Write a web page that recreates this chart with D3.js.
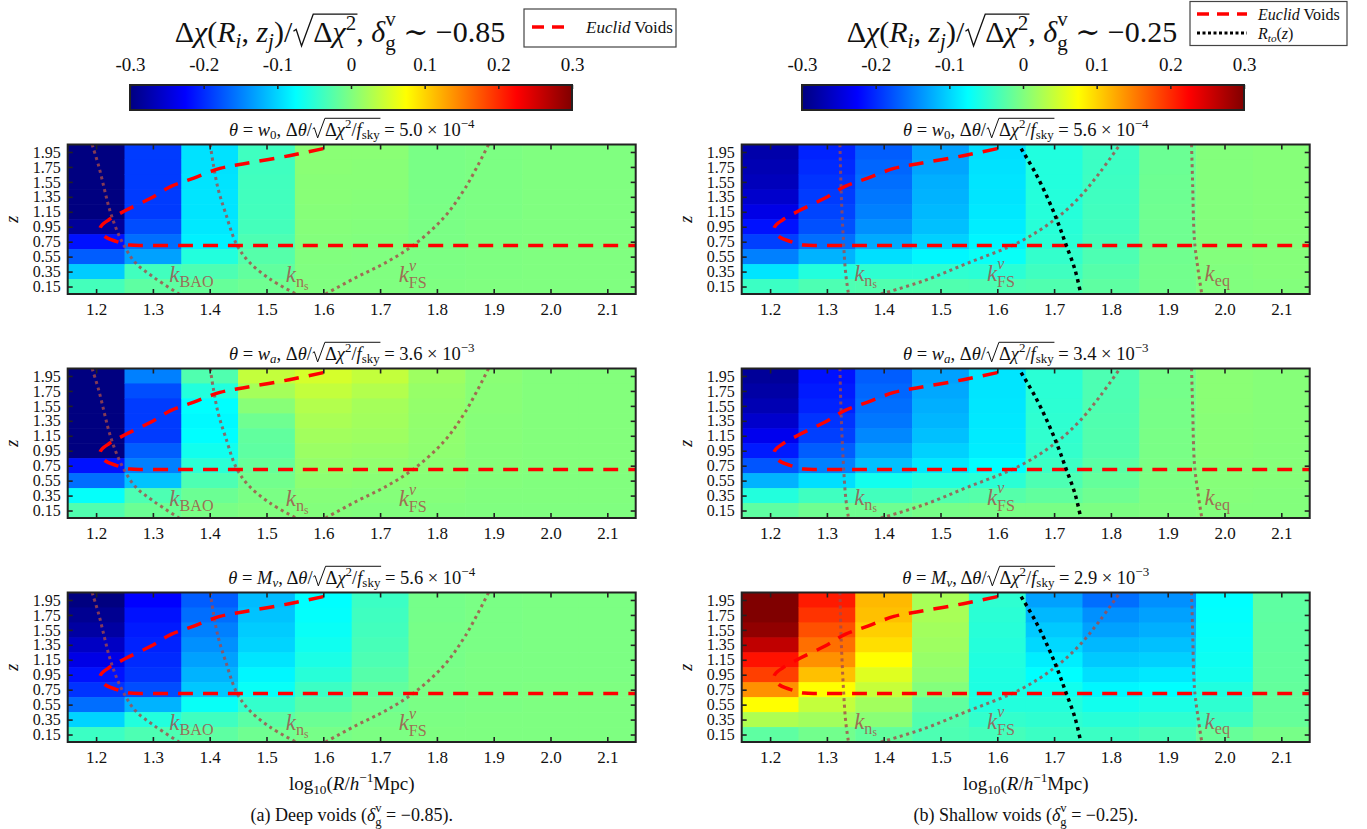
<!DOCTYPE html>
<meta charset="utf-8">
<script src="https://cdn.jsdelivr.net/npm/d3@7"></script>
<style>
body { margin: 0; background: #fff; }
svg { display: block; font-family: "Liberation Serif", "Tinos", "Times New Roman", "DejaVu Serif", serif; }
svg text { font-family: "Liberation Serif", "Tinos", "Times New Roman", "DejaVu Serif", serif !important; fill: #111; white-space: pre; }
</style>
<body>
<script>

// grid of the maps
var rVals = [1.2, 1.3, 1.4, 1.5, 1.6, 1.7, 1.8, 1.9, 2.0, 2.1];
var zRows = [1.95, 1.75, 1.55, 1.35, 1.15, 0.95, 0.75, 0.55, 0.35, 0.15];
var cbTicks = [-0.3, -0.2, -0.1, 0, 0.1, 0.2, 0.3];
var cbLabels = ["-0.3", "-0.2", "-0.1", "0", "0.1", "0.2", "0.3"];

// each inner array is one R column, values from z=1.95 down to z=0.15
var deepW0 = [
  [-0.3, -0.3, -0.3, -0.3, -0.3, -0.285, -0.215, -0.17, -0.105, -0.035],
  [-0.19, -0.19, -0.19, -0.19, -0.19, -0.18, -0.16, -0.13, -0.037, -0.02],
  [-0.092, -0.092, -0.091, -0.09, -0.09, -0.088, -0.083, -0.055, -0.03, -0.015],
  [-0.038, -0.038, -0.037, -0.037, -0.036, -0.035, -0.03, -0.025, -0.018, -0.01],
  [0.006, 0.006, 0.005, 0.005, 0.004, 0.003, 0.002, 0.001, 0, 0],
  [0.006, 0.005, 0.005, 0.004, 0.003, 0.002, 0.001, 0, 0, 0],
  [-0.004, -0.004, -0.004, -0.004, -0.003, -0.003, -0.003, -0.002, -0.002, -0.001],
  [-0.002, -0.002, -0.002, -0.002, -0.002, -0.001, -0.001, -0.001, -0.001, 0],
  [0, 0, 0, 0, 0, 0, 0, 0, 0, 0],
  [0, 0, 0, 0, 0, 0, 0, 0, 0, 0]
];
var deepWa = [
  [-0.3, -0.3, -0.3, -0.3, -0.3, -0.3, -0.215, -0.16, -0.072, -0.028],
  [-0.15, -0.18, -0.19, -0.19, -0.19, -0.17, -0.15, -0.11, -0.03, -0.012],
  [-0.028, -0.055, -0.075, -0.078, -0.075, -0.065, -0.05, -0.03, -0.012, -0.004],
  [0.04, 0.022, 0.005, -0.01, -0.018, -0.02, -0.015, -0.008, -0.003, 0],
  [0.05, 0.04, 0.03, 0.025, 0.02, 0.016, 0.012, 0.008, 0.004, 0.002],
  [0.04, 0.03, 0.022, 0.02, 0.018, 0.014, 0.01, 0.006, 0.003, 0.001],
  [0.018, 0.014, 0.012, 0.011, 0.01, 0.009, 0.007, 0.005, 0.003, 0.001],
  [0.006, 0.005, 0.005, 0.004, 0.004, 0.003, 0.003, 0.002, 0.001, 0],
  [0.002, 0.002, 0.002, 0.002, 0.002, 0.002, 0.002, 0.001, 0.001, 0],
  [0.002, 0.002, 0.002, 0.002, 0.002, 0.002, 0.002, 0.001, 0.001, 0]
];
var deepMnu = [
  [-0.3, -0.29, -0.28, -0.26, -0.24, -0.215, -0.195, -0.16, -0.1, -0.04],
  [-0.225, -0.215, -0.21, -0.205, -0.2, -0.195, -0.18, -0.12, -0.055, -0.03],
  [-0.17, -0.16, -0.15, -0.14, -0.13, -0.12, -0.108, -0.07, -0.038, -0.02],
  [-0.115, -0.11, -0.105, -0.1, -0.09, -0.08, -0.07, -0.045, -0.022, -0.01],
  [-0.075, -0.073, -0.07, -0.066, -0.06, -0.052, -0.04, -0.025, -0.012, -0.005],
  [-0.04, -0.038, -0.036, -0.033, -0.03, -0.025, -0.018, -0.01, -0.005, -0.002],
  [-0.006, -0.006, -0.005, -0.005, -0.005, -0.004, -0.004, -0.003, -0.002, -0.001],
  [-0.003, -0.003, -0.003, -0.003, -0.002, -0.002, -0.002, -0.002, -0.001, -0.001],
  [-0.002, -0.002, -0.002, -0.002, -0.002, -0.002, -0.001, -0.001, -0.001, -0.001],
  [-0.002, -0.002, -0.002, -0.002, -0.002, -0.002, -0.001, -0.001, -0.001, -0.001]
];
var shallowW0 = [
  [-0.275, -0.27, -0.265, -0.255, -0.24, -0.215, -0.188, -0.15, -0.09, -0.04],
  [-0.205, -0.2, -0.195, -0.19, -0.185, -0.178, -0.16, -0.12, -0.055, -0.03],
  [-0.17, -0.165, -0.16, -0.155, -0.15, -0.14, -0.125, -0.094, -0.048, -0.028],
  [-0.13, -0.128, -0.122, -0.12, -0.116, -0.112, -0.102, -0.08, -0.048, -0.028],
  [-0.094, -0.092, -0.09, -0.09, -0.088, -0.085, -0.08, -0.07, -0.05, -0.03],
  [-0.056, -0.055, -0.055, -0.054, -0.053, -0.052, -0.05, -0.045, -0.038, -0.028],
  [-0.04, -0.04, -0.039, -0.038, -0.037, -0.036, -0.034, -0.03, -0.025, -0.02],
  [-0.012, -0.012, -0.011, -0.011, -0.01, -0.01, -0.01, -0.009, -0.008, -0.008],
  [0.002, 0.002, 0.002, 0.002, 0.002, 0.002, 0.002, 0.002, 0.001, 0.001],
  [0.004, 0.004, 0.004, 0.004, 0.004, 0.004, 0.003, 0.003, 0.003, 0.002]
];
var shallowWa = [
  [-0.285, -0.278, -0.27, -0.255, -0.235, -0.21, -0.175, -0.12, -0.055, -0.02],
  [-0.215, -0.21, -0.205, -0.195, -0.188, -0.17, -0.15, -0.094, -0.038, -0.01],
  [-0.17, -0.165, -0.16, -0.155, -0.145, -0.13, -0.112, -0.065, -0.036, -0.01],
  [-0.13, -0.126, -0.122, -0.118, -0.112, -0.102, -0.088, -0.055, -0.028, -0.005],
  [-0.09, -0.09, -0.089, -0.088, -0.087, -0.085, -0.075, -0.05, -0.025, -0.004],
  [-0.05, -0.05, -0.049, -0.048, -0.047, -0.045, -0.04, -0.03, -0.018, -0.004],
  [-0.03, -0.03, -0.029, -0.028, -0.027, -0.026, -0.022, -0.016, -0.01, -0.002],
  [-0.006, -0.006, -0.005, -0.005, -0.004, -0.004, -0.003, -0.002, -0.001, 0],
  [0.006, 0.006, 0.006, 0.005, 0.005, 0.005, 0.004, 0.004, 0.003, 0.002],
  [0.004, 0.004, 0.004, 0.004, 0.004, 0.003, 0.003, 0.003, 0.002, 0.002]
];
var shallowMnu = [
  [0.3, 0.3, 0.29, 0.262, 0.215, 0.188, 0.14, 0.075, 0.028, -0.02],
  [0.21, 0.195, 0.178, 0.16, 0.14, 0.112, 0.075, 0.04, 0.02, -0.008],
  [0.116, 0.112, 0.103, 0.094, 0.075, 0.056, 0.042, 0.02, 0.006, -0.018],
  [0.024, 0.024, 0.02, 0.018, 0.014, 0.01, 0.002, -0.018, -0.028, -0.03],
  [-0.048, -0.05, -0.052, -0.054, -0.056, -0.058, -0.058, -0.055, -0.045, -0.035],
  [-0.13, -0.117, -0.107, -0.098, -0.085, -0.075, -0.065, -0.055, -0.048, -0.04],
  [-0.16, -0.14, -0.13, -0.117, -0.107, -0.094, -0.08, -0.065, -0.052, -0.04],
  [-0.14, -0.13, -0.122, -0.112, -0.102, -0.088, -0.075, -0.06, -0.048, -0.034],
  [-0.075, -0.074, -0.072, -0.07, -0.068, -0.065, -0.056, -0.048, -0.038, -0.015],
  [-0.02, -0.02, -0.019, -0.019, -0.018, -0.018, -0.017, -0.016, -0.015, -0.005]
];

// sigma of each parameter, printed in the titles
var deepSigma = ["5.0", "3.6", "5.6"];
var deepExp = ["\u22124", "\u22123", "\u22124"];
var shallowSigma = ["5.6", "3.4", "2.9"];
var shallowExp = ["\u22124", "\u22123", "\u22123"];

// curves, [log10 R, z]
var euclidVoids = [[1.60, 1.995], [1.54, 1.90], [1.458, 1.79], [1.418, 1.73], [1.372, 1.60], [1.332, 1.49],
  [1.296, 1.33], [1.25, 1.16], [1.222, 1.04], [1.21, 0.97], [1.207, 0.92], [1.215, 0.82], [1.235, 0.755],
  [1.26, 0.705], [1.30, 0.70], [2.15, 0.70]];
var kBaoDeep = [[1.193, 2.05], [1.205, 1.75], [1.215, 1.44], [1.223, 1.2], [1.234, 0.95], [1.249, 0.70],
  [1.269, 0.47], [1.302, 0.27], [1.346, 0.05]];
var kNsDeep = [[1.401, 2.05], [1.406, 1.8], [1.415, 1.45], [1.428, 1.13], [1.447, 0.72], [1.468, 0.49],
  [1.506, 0.25], [1.552, 0.05]];
var kFsDeep = [[1.604, 0.05], [1.66, 0.28], [1.71, 0.47], [1.76, 0.71], [1.812, 1.07], [1.85, 1.47], [1.891, 2.05]];
var kNsShallow = [[1.323, 2.05], [1.325, 1.45], [1.329, 0.78], [1.333, 0.33], [1.338, 0.05]];
var kFsShallow = [[1.395, 0.05], [1.468, 0.22], [1.547, 0.46], [1.64, 0.75], [1.70, 1.04], [1.743, 1.33],
  [1.78, 1.67], [1.816, 2.05]];
var kEqShallow = [[1.942, 2.05], [1.944, 1.5], [1.947, 0.78], [1.953, 0.4], [1.96, 0.05]];
var rTo = [[1.642, 1.995], [1.667, 1.67], [1.69, 1.31], [1.707, 1.0], [1.72, 0.73], [1.737, 0.37], [1.747, 0.05]];

var deepLabels = [
  {r: 1.329, z: 0.21, parts: [{t: "k", it: 1}, {t: "BAO", sh: 0.22, sc: 0.7}]},
  {r: 1.534, z: 0.21, parts: [{t: "k", it: 1}, {t: "n", sh: 0.22, sc: 0.7}, {t: "s", sh: 0.34, sc: 0.5}]},
  {r: 1.733, z: 0.21, parts: [{t: "k", it: 1}, {t: "\u03bd", it: 1, sh: -0.5, sc: 0.7}, {t: "FS", sh: 0.28, sc: 0.7, dx: -0.32}]}
];
var shallowLabels = [
  {r: 1.348, z: 0.23, parts: [{t: "k", it: 1}, {t: "n", sh: 0.22, sc: 0.7}, {t: "s", sh: 0.34, sc: 0.5}]},
  {r: 1.582, z: 0.23, parts: [{t: "k", it: 1}, {t: "\u03bd", it: 1, sh: -0.5, sc: 0.7}, {t: "FS", sh: 0.28, sc: 0.7, dx: -0.32}]},
  {r: 1.965, z: 0.23, parts: [{t: "k", it: 1}, {t: "eq", sh: 0.22, sc: 0.7}]}
];

var W = 568, H = 149.5;
var colX = [67.7, 741.7];
var rowY = [144.5, 368.5, 592.5];
var cbX = [130, 802], cbW = 442;
var brown = "rgb(165,72,72)";
var serif = '"Liberation Serif", "Tinos", "Times New Roman", "DejaVu Serif", serif';

var svg = d3.select("body").append("svg")
    .attr("width", 1367)
    .attr("height", 829)
    .style("font-family", serif);

var x = d3.scaleLinear().domain([1.15, 2.15]).range([0, W]);
var y = d3.scaleLinear().domain([0.05, 2.05]).range([H, 0]);

// jet colour map
var jetDomain = [-0.3, -0.225, -0.075, 0.075, 0.225, 0.3];
var jetColors = ["#000080", "#0000ff", "#00ffff", "#ffff00", "#ff0000", "#800000"];
var color = d3.scaleLinear().domain(jetDomain).range(jetColors).clamp(true);

// lays out a line of tspans with sub/superscripts and an optional square root
function mathText(g, parts, px, py, size, anchor) {
  var t = g.append("text")
      .attr("x", px)
      .attr("y", py)
      .attr("text-anchor", anchor || "start")
      .style("font-family", serif)
      .style("font-size", size + "px");
  var cur = 0, idx = 0, root = null;
  parts.forEach(function(p) {
    var sh = (p.sh || 0) * size;
    var s = t.append("tspan").text(p.t)
        .attr("dy", sh - cur)
        .style("font-size", (p.sc || 1) * size + "px");
    if (p.it) s.style("font-style", "italic");
    if (p.dx) s.attr("dx", p.dx * size);
    cur = sh;
    if (p.root) root = {a: idx, b: idx + p.t.length - 1};
    if (p.rootEnd) root.c = idx + p.t.length - 1;
    idx += p.t.length;
  });
  if (root) {
    var n = t.node();
    var a = n.getExtentOfChar(root.a), b = n.getExtentOfChar(root.b), c = n.getExtentOfChar(root.c);
    var x0 = a.x + 0.04 * size, x1 = b.x + b.width, x2 = c.x + c.width + 0.04 * size;
    var top = py - 0.93 * size;
    g.append("path")
        .attr("d", "M" + x0 + "," + (py - 0.36 * size) + "L" + (x0 + 0.09 * size) + "," + (py - 0.42 * size) +
          "L" + (x0 + 0.27 * size) + "," + (py + 0.13 * size) + "L" + x1 + "," + top + "H" + x2)
        .attr("fill", "none")
        .attr("stroke", "#111")
        .attr("stroke-width", Math.max(1, size * 0.045));
  }
  return t;
}

var sub = function(s, it) { return {t: s, sh: 0.2, sc: 0.7, it: it}; };
var sup = function(s, it) { return {t: s, sh: -0.4, sc: 0.7, it: it}; };
var paramParts = [
  [{t: "w", it: 1}, sub("0")],
  [{t: "w", it: 1}, sub("a", 1)],
  [{t: "M", it: 1}, sub("\u03bd", 1)]
];

function titleParts(k, val, ex) {
  return [{t: "\u03b8", it: 1}, {t: " = "}].concat(paramParts[k], [
    {t: ", \u0394"}, {t: "\u03b8", it: 1}, {t: "/"}, {t: "\u2002\u2009", root: 1},
    {t: "\u0394"}, {t: "\u03c7", it: 1}, sup("2"), {t: "/"}, {t: "f", it: 1},
    {t: "sky", sh: 0.2, sc: 0.7, rootEnd: 1}, {t: " = " + val + " \u00d7 10"}, sup(ex)]);
}

function mainParts(dv) {
  return [{t: "\u0394"}, {t: "\u03c7", it: 1}, {t: "("}, {t: "R", it: 1}, sub("i", 1), {t: ", "},
    {t: "z", it: 1}, sub("j", 1), {t: ")/"}, {t: "\u2002\u2009", root: 1}, {t: "\u0394"},
    {t: "\u03c7", it: 1}, {t: "2", sh: -0.4, sc: 0.7, rootEnd: 1}, {t: ", "}, {t: "\u03b4", it: 1},
    {t: "v", sh: -0.53, sc: 0.7}, {t: "g", sh: 0.25, sc: 0.7, dx: -0.35}, {t: " \u223c \u2212" + dv}];
}

var line = d3.line()
    .x(function(d) { return x(d[0]); })
    .y(function(d) { return y(d[1]); })
    .curve(d3.curveCatmullRom.alpha(0.5));

var panels = [
  {col: 0, row: 0, data: deepW0, k: 0, val: deepSigma[0], ex: deepExp[0]},
  {col: 0, row: 1, data: deepWa, k: 1, val: deepSigma[1], ex: deepExp[1]},
  {col: 0, row: 2, data: deepMnu, k: 2, val: deepSigma[2], ex: deepExp[2]},
  {col: 1, row: 0, data: shallowW0, k: 0, val: shallowSigma[0], ex: shallowExp[0]},
  {col: 1, row: 1, data: shallowWa, k: 1, val: shallowSigma[1], ex: shallowExp[1]},
  {col: 1, row: 2, data: shallowMnu, k: 2, val: shallowSigma[2], ex: shallowExp[2]}
];

svg.append("defs").append("clipPath").attr("id", "clip")
  .append("rect").attr("width", W).attr("height", H);

panels.forEach(function(p) {
  var g = svg.append("g")
      .attr("transform", "translate(" + colX[p.col] + "," + rowY[p.row] + ")");

  var inner = g.append("g").attr("clip-path", "url(#clip)");

  var cells = [];
  p.data.forEach(function(colVals, i) {
    colVals.forEach(function(v, j) {
      cells.push({r: rVals[i], z: zRows[j], v: v});
    });
  });

  inner.selectAll("rect.cell")
      .data(cells)
      .join("rect")
      .attr("class", "cell")
      .attr("x", function(d) { return x(d.r - 0.05); })
      .attr("y", function(d) { return y(d.z + 0.1); })
      .attr("width", x(1.25) - x(1.15) + 0.6)
      .attr("height", y(0.05) - y(0.25) + 0.6)
      .attr("fill", function(d) { return color(d.v); });

  // scale lines
  var curves = p.col == 0 ? [kBaoDeep, kNsDeep, kFsDeep] : [kNsShallow, kFsShallow, kEqShallow];
  curves.forEach(function(c) {
    inner.append("path")
        .attr("d", line(c))
        .attr("fill", "none")
        .attr("stroke", brown)
        .attr("stroke-opacity", 0.8)
        .attr("stroke-width", 3)
        .attr("stroke-dasharray", "3,3.6");
  });

  inner.append("path")
      .attr("d", line(euclidVoids))
      .attr("fill", "none")
      .attr("stroke", "#ff0000")
      .attr("stroke-width", 3.5)
      .attr("stroke-dasharray", "15,10");

  if (p.col == 1) {
    inner.append("path")
        .attr("d", line(rTo))
        .attr("fill", "none")
        .attr("stroke", "#000")
        .attr("stroke-width", 3.5)
        .attr("stroke-dasharray", "3.5,4");
  }

  var labels = p.col == 0 ? deepLabels : shallowLabels;
  labels.forEach(function(l) {
    mathText(inner, l.parts, x(l.r), y(l.z), 23)
        .style("fill", brown)
        .style("fill-opacity", 0.8);
  });

  // axes, ticks pointing inward
  var xAxis = g.append("g").attr("transform", "translate(0," + H + ")")
      .call(d3.axisBottom(x).tickValues(rVals).tickFormat(d3.format(".1f")).tickSize(-5).tickPadding(9));
  var yAxis = g.append("g")
      .call(d3.axisLeft(y).tickValues(zRows).tickFormat(d3.format(".2f")).tickSize(-5).tickPadding(7));
  var axes = [xAxis, yAxis,
    g.append("g")
      .call(d3.axisTop(x).tickValues(rVals).tickFormat("").tickSize(-5)),
    g.append("g").attr("transform", "translate(" + W + ",0)")
      .call(d3.axisRight(y).tickValues(zRows).tickFormat("").tickSize(-5))
  ];
  axes.forEach(function(a) {
    a.attr("font-family", serif).attr("font-size", 16);
    a.select(".domain").remove();
    a.selectAll(".tick line").attr("stroke", "#222").attr("stroke-width", 1.6);
    a.selectAll(".tick text").style("font-family", serif).attr("fill", null);
  });
  xAxis.selectAll(".tick text").style("font-size", "17px");
  yAxis.selectAll(".tick text").style("font-size", "16px");

  g.append("rect")
      .attr("width", W)
      .attr("height", H)
      .attr("fill", "none")
      .attr("stroke", "#222")
      .attr("stroke-width", 2);

  g.append("text")
      .attr("transform", "translate(-50," + (H / 2) + ") rotate(-90)")
      .attr("text-anchor", "middle")
      .style("font-family", serif)
      .style("font-size", "18px")
      .style("font-style", "italic")
      .text("z");

  mathText(g, titleParts(p.k, p.val, p.ex), W / 2, -9, 18.5, "middle");
});

// colour bars
var cb = d3.scaleLinear().domain([-0.3, 0.3]).range([0, cbW]);
var grad = svg.select("defs").append("linearGradient").attr("id", "jet");
jetDomain.forEach(function(d, i) {
  grad.append("stop").attr("offset", (d + 0.3) / 0.6).attr("stop-color", jetColors[i]);
});

[0, 1].forEach(function(c) {
  var g = svg.append("g").attr("transform", "translate(" + cbX[c] + ",85)");
  g.append("rect").attr("width", cbW).attr("height", 25).attr("fill", "url(#jet)");
  var a = g.append("g")
      .call(d3.axisTop(cb).tickValues(cbTicks).tickFormat(function(d, i) { return cbLabels[i]; })
        .tickSize(-4).tickPadding(14));
  a.attr("font-family", serif).attr("font-size", 19);
  a.select(".domain").remove();
  a.selectAll(".tick line").attr("stroke", "#222").attr("stroke-width", 1.5);
  a.selectAll(".tick text").style("font-size", "19px").style("font-family", serif).attr("fill", null);
  g.append("rect").attr("width", cbW).attr("height", 25)
      .attr("fill", "none").attr("stroke", "#222").attr("stroke-width", 2);
});

mathText(svg, mainParts("0.85"), 340, 42, 30, "middle");
mathText(svg, mainParts("0.25"), 1012, 42, 30, "middle");

// legends
svg.append("rect").attr("x", 524).attr("y", 9).attr("width", 152).attr("height", 38)
    .attr("fill", "#fff").attr("stroke", "#444").attr("stroke-width", 1.2);
svg.append("line").attr("x1", 532).attr("x2", 572).attr("y1", 27).attr("y2", 27)
    .attr("stroke", "#ff0000").attr("stroke-width", 3.5).attr("stroke-dasharray", "12,8");
mathText(svg, [{t: "Euclid", it: 1}, {t: " Voids"}], 586, 33, 17);

svg.append("rect").attr("x", 1190).attr("y", 1.5).attr("width", 157).attr("height", 44)
    .attr("fill", "#fff").attr("stroke", "#444").attr("stroke-width", 1.2);
svg.append("line").attr("x1", 1197).attr("x2", 1247).attr("y1", 14).attr("y2", 14)
    .attr("stroke", "#ff0000").attr("stroke-width", 3.5).attr("stroke-dasharray", "12,8");
mathText(svg, [{t: "Euclid", it: 1}, {t: " Voids"}], 1258, 19.5, 16);
svg.append("line").attr("x1", 1197).attr("x2", 1247).attr("y1", 33).attr("y2", 33)
    .attr("stroke", "#000").attr("stroke-width", 3).attr("stroke-dasharray", "3,2.5");
mathText(svg, [{t: "R", it: 1}, sub("to", 1), {t: "("}, {t: "z", it: 1}, {t: ")"}], 1258, 38.5, 16);

// x labels and captions
var capParts = [
  [{t: "(a) Deep voids ("}, {t: "\u03b4", it: 1}, {t: "v", sh: -0.5, sc: 0.7}, {t: "g", sh: 0.3, sc: 0.7, dx: -0.35}, {t: " = \u22120.85)."}],
  [{t: "(b) Shallow voids ("}, {t: "\u03b4", it: 1}, {t: "v", sh: -0.5, sc: 0.7}, {t: "g", sh: 0.3, sc: 0.7, dx: -0.35}, {t: " = \u22120.25)."}]
];
[0, 1].forEach(function(c) {
  mathText(svg, [{t: "log"}, sub("10"), {t: "("}, {t: "R", it: 1}, {t: "/"}, {t: "h", it: 1},
    sup("\u22121"), {t: "Mpc)"}], colX[c] + W / 2, 790, 19, "middle");
  mathText(svg, capParts[c], colX[c] + W / 2, 821, 18, "middle");
});

</script>
</body>
